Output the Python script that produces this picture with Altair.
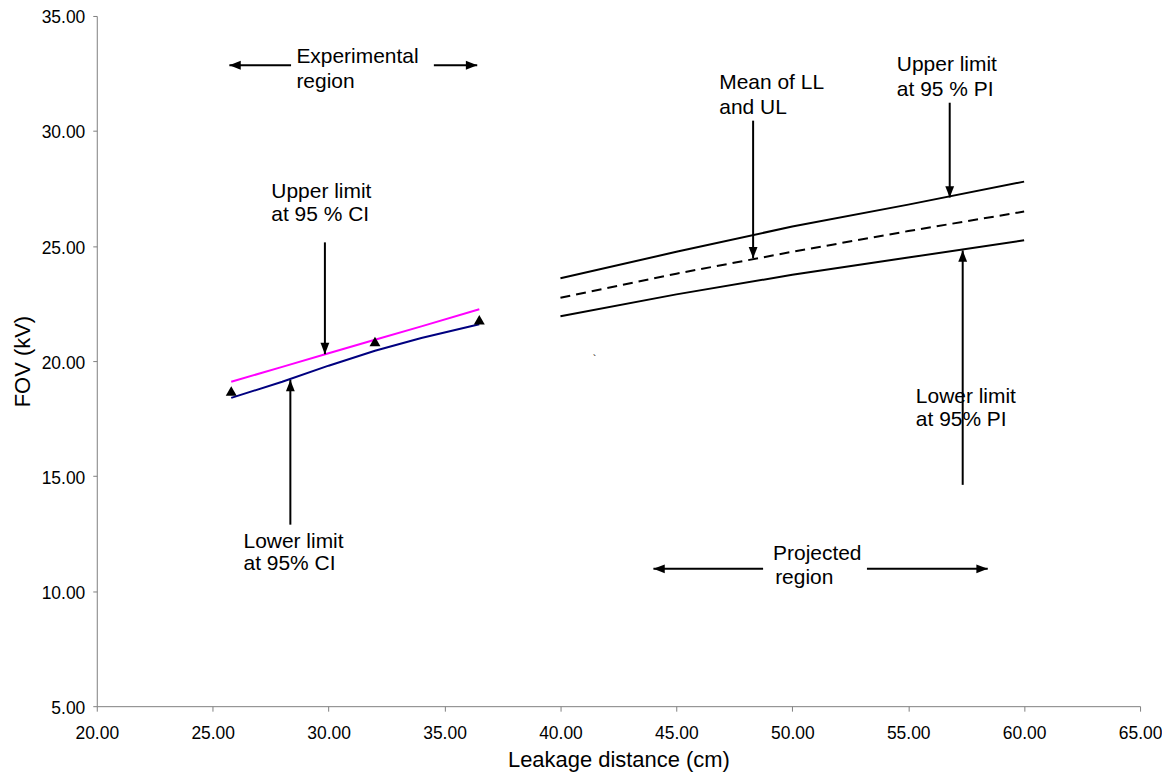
import altair as alt
import pandas as pd

FONT = "Liberation Sans"

# Measured points (triangles)
obs_x = [25.8, 32.0, 36.5]
obs_y = [18.7, 20.85, 21.8]

# Experimental region confidence limits
ci_x = [25.8, 28.0, 30.0, 32.0, 34.0, 36.5]
upper_ci = [19.1, 19.75, 20.34, 20.93, 21.51, 22.25]
lower_ci = [18.4, 19.1, 19.8, 20.45, 21.0, 21.6]

# Projected region prediction limits
pi_x = [40.0, 45.0, 50.0, 55.0, 60.0]
upper_pi = [23.6, 24.75, 25.85, 26.8, 27.8]
mean_pi = [22.75, 23.8, 24.75, 25.65, 26.5]
lower_pi = [21.95, 22.9, 23.75, 24.5, 25.25]

# Annotation texts
ann_text = ["Experimental", "region", "Upper limit", "at 95 % CI", "Lower limit", "at 95% CI",
            "Mean of LL", "and UL", "Upper limit", "at 95 % PI", "Lower limit", "at 95% PI",
            "Projected", "region"]
ann_x = [28.61, 28.61, 27.53, 27.53, 26.33, 26.33, 46.85, 46.85, 54.51, 54.51, 55.33, 55.33, 49.17, 49.26]
ann_y = [32.96, 31.88, 27.07, 26.07, 11.89, 10.90, 31.84, 30.75, 32.62, 31.53, 18.18, 17.18, 11.37, 10.33]

# Annotation arrows (tail -> tip)
arr_x1 = [28.38, 34.54, 29.84, 28.35, 48.31, 56.79, 57.35, 48.74, 53.22]
arr_y1 = [32.86, 32.86, 25.16, 12.89, 30.45, 31.23, 14.62, 10.97, 10.97]
arr_x2 = [25.72, 36.41, 29.84, 28.35, 48.31, 56.79, 57.35, 44.01, 58.43]
arr_y2 = [32.86, 32.86, 20.30, 19.18, 24.47, 27.11, 24.81, 10.97, 10.97]
arr_angle = [90, 270, 0, 180, 0, 0, 180, 90, 270]

x_ticks = [20, 25, 30, 35, 40, 45, 50, 55, 60, 65]
y_ticks = [5, 10, 15, 20, 25, 30, 35]

xs = alt.Scale(domain=[20, 65], nice=False, zero=False)
ys = alt.Scale(domain=[5, 35], nice=False, zero=False)

xax = alt.Axis(values=x_ticks, format=".2f", title="Leakage distance (cm)", grid=False,
               domainColor="#808080", tickColor="#808080", tickSize=5, labelColor="black",
               labelFont=FONT, labelFontSize=17.5, titleFont=FONT, titleFontSize=22,
               titleFontWeight="normal", titleColor="black", labelPadding=13,
               labelFlush=False, titleY=43, titleBaseline="top")
yax = alt.Axis(values=y_ticks, format=".2f", title="FOV (kV)", grid=False,
               domainColor="#808080", tickColor="#808080", tickSize=4, labelColor="black",
               labelFont=FONT, labelFontSize=17.5, titleFont=FONT, titleFontSize=22,
               titleFontWeight="normal", titleColor="black", labelPadding=8, labelOffset=2,
               labelFlush=False, titleX=-74.5, titleBaseline="middle", titleAngle=270)

obs_df = pd.DataFrame({"x": obs_x, "y": obs_y})
ci_df = pd.DataFrame({"x": ci_x, "upper": upper_ci, "lower": lower_ci})
pi_df = pd.DataFrame({"x": pi_x, "upper": upper_pi, "mean": mean_pi, "lower": lower_pi})
ann_df = pd.DataFrame({"text": ann_text, "x": ann_x, "y": ann_y})
arr_df = pd.DataFrame({"x": arr_x1, "y": arr_y1, "x2": arr_x2, "y2": arr_y2, "angle": arr_angle})

base_ci = alt.Chart(ci_df)
upper_ci_line = base_ci.mark_line(color="#FF00FF", strokeWidth=2).encode(
    x=alt.X("x:Q", scale=xs, axis=xax), y=alt.Y("upper:Q", scale=ys, axis=yax))
lower_ci_line = base_ci.mark_line(color="#000080", strokeWidth=2).encode(
    x=alt.X("x:Q", scale=xs), y=alt.Y("lower:Q", scale=ys))

base_pi = alt.Chart(pi_df)
upper_pi_line = base_pi.mark_line(color="black", strokeWidth=2).encode(
    x=alt.X("x:Q", scale=xs), y=alt.Y("upper:Q", scale=ys))
mean_pi_line = base_pi.mark_line(color="black", strokeWidth=2, strokeDash=[10, 6]).encode(
    x=alt.X("x:Q", scale=xs), y=alt.Y("mean:Q", scale=ys))
lower_pi_line = base_pi.mark_line(color="black", strokeWidth=2).encode(
    x=alt.X("x:Q", scale=xs), y=alt.Y("lower:Q", scale=ys))

obs_pts = alt.Chart(obs_df).mark_point(shape="triangle-up", filled=True, color="black",
                                       size=120, opacity=1).encode(
    x=alt.X("x:Q", scale=xs), y=alt.Y("y:Q", scale=ys))

arrow_shafts = alt.Chart(arr_df).mark_rule(color="black", strokeWidth=2).encode(
    x=alt.X("x:Q", scale=xs), y=alt.Y("y:Q", scale=ys), x2="x2:Q", y2="y2:Q")
arrow_heads = alt.Chart(arr_df).mark_point(
    shape="M0,0L-1.4,-3.6L1.4,-3.6Z", filled=True, color="black", size=40, opacity=1).encode(
    x=alt.X("x2:Q", scale=xs), y=alt.Y("y2:Q", scale=ys), angle=alt.Angle("angle:Q", scale=None))

ann = alt.Chart(ann_df).mark_text(align="left", baseline="alphabetic", font=FONT,
                                   fontSize=21, color="black").encode(
    x=alt.X("x:Q", scale=xs), y=alt.Y("y:Q", scale=ys), text="text:N")

speck = alt.Chart(pd.DataFrame({"x": [41.47], "y": [20.04], "t": ["`"]})).mark_text(
    font=FONT, fontSize=11, color="black").encode(
    x=alt.X("x:Q", scale=xs), y=alt.Y("y:Q", scale=ys), text="t:N")

chart = alt.layer(
    upper_ci_line, lower_ci_line, upper_pi_line, mean_pi_line, lower_pi_line,
    obs_pts, arrow_shafts, arrow_heads, ann, speck
).properties(
    width=1046, height=692,
    autosize=alt.AutoSizeParams(type="none"),
    padding={"left": 89, "top": 7, "right": 22, "bottom": 70},
    background="white"
).configure_view(stroke=None)

chart.save("out.html", embed_options={"renderer": "svg", "actions": False})
